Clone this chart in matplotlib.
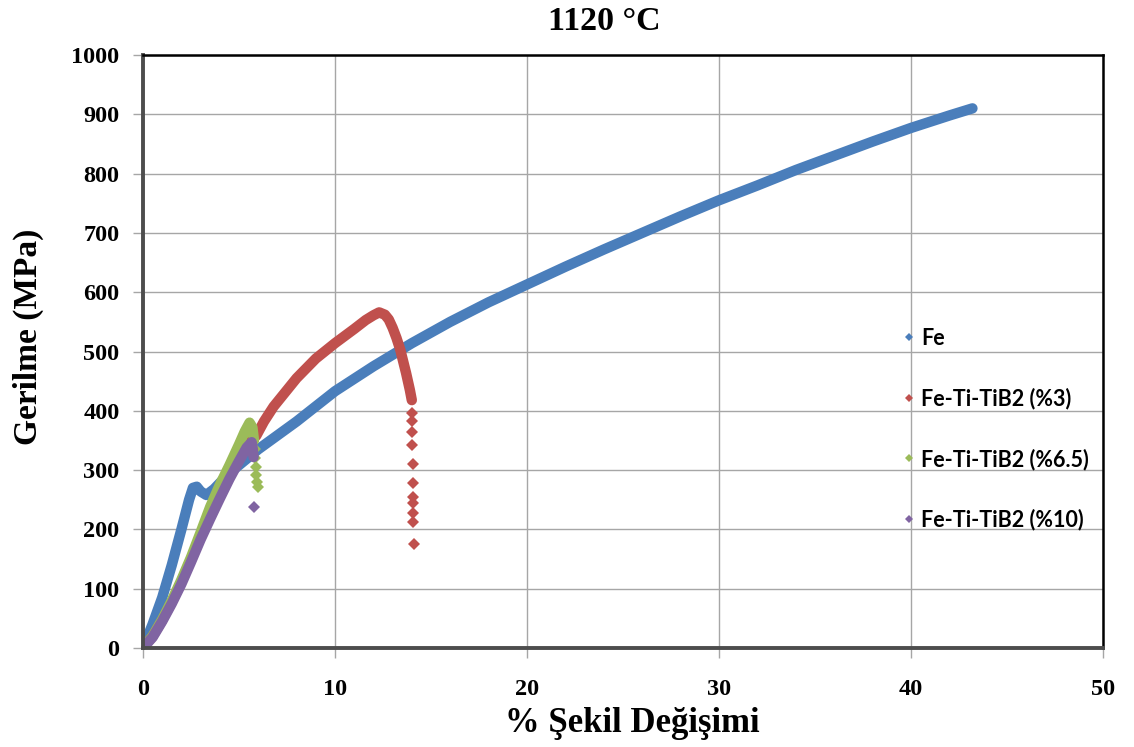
import matplotlib
matplotlib.use("Agg")
import matplotlib.pyplot as plt
from matplotlib.lines import Line2D

# ---- data: strain (%) vs stress (MPa) at 1120 °C ----
fe_strain = [0, 0.5, 1.0, 1.5, 2.0, 2.4, 2.6, 2.8, 3.0, 3.3, 3.7, 4.5, 6, 8, 10, 12, 14,
             16, 18, 20, 22, 24, 26, 28, 30, 32, 34, 36, 38, 40, 42, 43.2]
fe_stress = [0, 40, 85, 140, 200, 250, 270, 272, 264, 258, 268, 295, 335, 382, 433, 475, 514,
             550, 583, 613, 643, 672, 700, 728, 755, 780, 806, 830, 854, 877, 898, 910]

ti3_strain = [0, 0.5, 1.0, 1.5, 2.0, 2.5, 3.0, 3.5, 4.0, 4.5, 5.0, 5.5, 5.9, 6.3, 6.8,
              7.5, 8.0, 9.0, 10.0, 11.0, 11.6, 12.0, 12.3, 12.6, 12.8, 13.0, 13.2, 13.4,
              13.7, 13.9, 14.0]
ti3_stress = [0, 20, 47, 78, 112, 150, 188, 225, 260, 295, 325, 345, 358, 382, 407,
              435, 455, 488, 514, 538, 553, 561, 566, 562, 554, 540, 523, 503,
              464, 435, 418]
ti3_tail_strain = [14.0, 14.0, 14.02, 14.03, 14.05, 14.05, 14.07, 14.07, 14.07, 14.08, 14.12]
ti3_tail_stress = [396, 382, 365, 342, 311, 279, 255, 244, 227, 213, 175]

ti65_strain = [0, 0.5, 1.0, 1.5, 2.0, 2.5, 3.0, 3.5, 4.0, 4.5, 5.0, 5.3, 5.55, 5.7, 5.78]
ti65_stress = [0, 20, 48, 80, 115, 153, 195, 238, 275, 308, 343, 365, 380, 372, 350]
ti65_tail_strain = [5.82, 5.85, 5.88, 5.9, 5.95, 6.0]
ti65_tail_stress = [335, 320, 305, 292, 280, 272]

ti10_strain = [0, 0.5, 1.0, 1.5, 2.0, 2.5, 3.0, 3.5, 4.0, 4.5, 5.0, 5.4, 5.66, 5.72, 5.76]
ti10_stress = [0, 18, 45, 75, 108, 145, 183, 218, 252, 285, 315, 338, 347, 335, 322]
ti10_tail_strain = [5.78]
ti10_tail_stress = [238]

labels = ["Fe", "Fe-Ti-TiB2 (%3)", "Fe-Ti-TiB2 (%6.5)", "Fe-Ti-TiB2 (%10)"]
colors = ["#4A7EBB", "#C0504D", "#9BBB59", "#8064A2"]

x_ticks = [0, 10, 20, 30, 40, 50]
y_ticks = [0, 100, 200, 300, 400, 500, 600, 700, 800, 900, 1000]

serif = ["Liberation Serif", "DejaVu Serif"]

fig = plt.figure(figsize=(11.34, 7.47), dpi=100)
ax = fig.add_axes([143 / 1134, 1 - 648 / 747, 960 / 1134, 593 / 747])

band = dict(linewidth=7.5, solid_capstyle="round", solid_joinstyle="round")
tail = dict(linestyle="none", marker="D", markersize=6.5)

series = [
    (fe_strain, fe_stress, [], []),
    (ti3_strain, ti3_stress, ti3_tail_strain, ti3_tail_stress),
    (ti65_strain, ti65_stress, ti65_tail_strain, ti65_tail_stress),
    (ti10_strain, ti10_stress, ti10_tail_strain, ti10_tail_stress),
]
for (xs, ys, tx, ty), c in zip(series, colors):
    ax.plot(xs, ys, color=c, **band)
    if tx:
        ax.plot(tx, ty, color=c, markeredgewidth=0, **tail)

ax.set_xlim(0, 50)
ax.set_ylim(0, 1000)
ax.set_xticks(x_ticks)
ax.set_yticks(y_ticks)
ax.grid(True, color="#A6A6A6", linewidth=1.0)
ax.set_axisbelow(True)

for side in ("left", "bottom"):
    ax.spines[side].set_color("#4D4D4D")
    ax.spines[side].set_linewidth(2.8)
for side in ("top", "right"):
    ax.spines[side].set_color("black")
    ax.spines[side].set_linewidth(1.8)

ax.tick_params(axis="both", direction="out", length=7, width=1.0, color="#A6A6A6")
ax.tick_params(axis="y", pad=10)
ax.tick_params(axis="x", pad=15)
for lab in ax.get_xticklabels() + ax.get_yticklabels():
    lab.set_fontfamily(serif)
    lab.set_fontweight("bold")
    lab.set_fontsize(17.5)

ax.set_xlabel("% Şekil Değişimi", fontfamily=serif, fontweight="bold", fontsize=25)
ax.set_ylabel("Gerilme (MPa)", fontfamily=serif, fontweight="bold", fontsize=24)
ax.xaxis.set_label_coords((632 - 143) / 960, -(723 - 648) / 593)
ax.yaxis.set_label_coords(-(143 - 28) / 960, (648 - 337) / 593)
ax.xaxis.label.set_va("center")
ax.yaxis.label.set_va("center")
fig.text(604 / 1134, 1 - 22 / 747, "1120 °C", fontfamily=serif, fontweight="bold",
         fontsize=24.5, ha="center", va="center")

handles = [Line2D([], [], color=c, marker="D", markersize=4.5, linestyle="none",
                  markeredgewidth=0) for c in colors]
leg = ax.legend(handles, labels, loc="upper left",
                bbox_to_anchor=(903 / 1134, 1 - 328 / 747), bbox_transform=fig.transFigure,
                frameon=False, handlelength=0.6, handletextpad=0.25, labelspacing=1.8,
                borderaxespad=0, borderpad=0,
                prop=dict(family=["Lato", "DejaVu Sans"], weight="bold", size=15.5))

fig.savefig("out.png", dpi=100)
